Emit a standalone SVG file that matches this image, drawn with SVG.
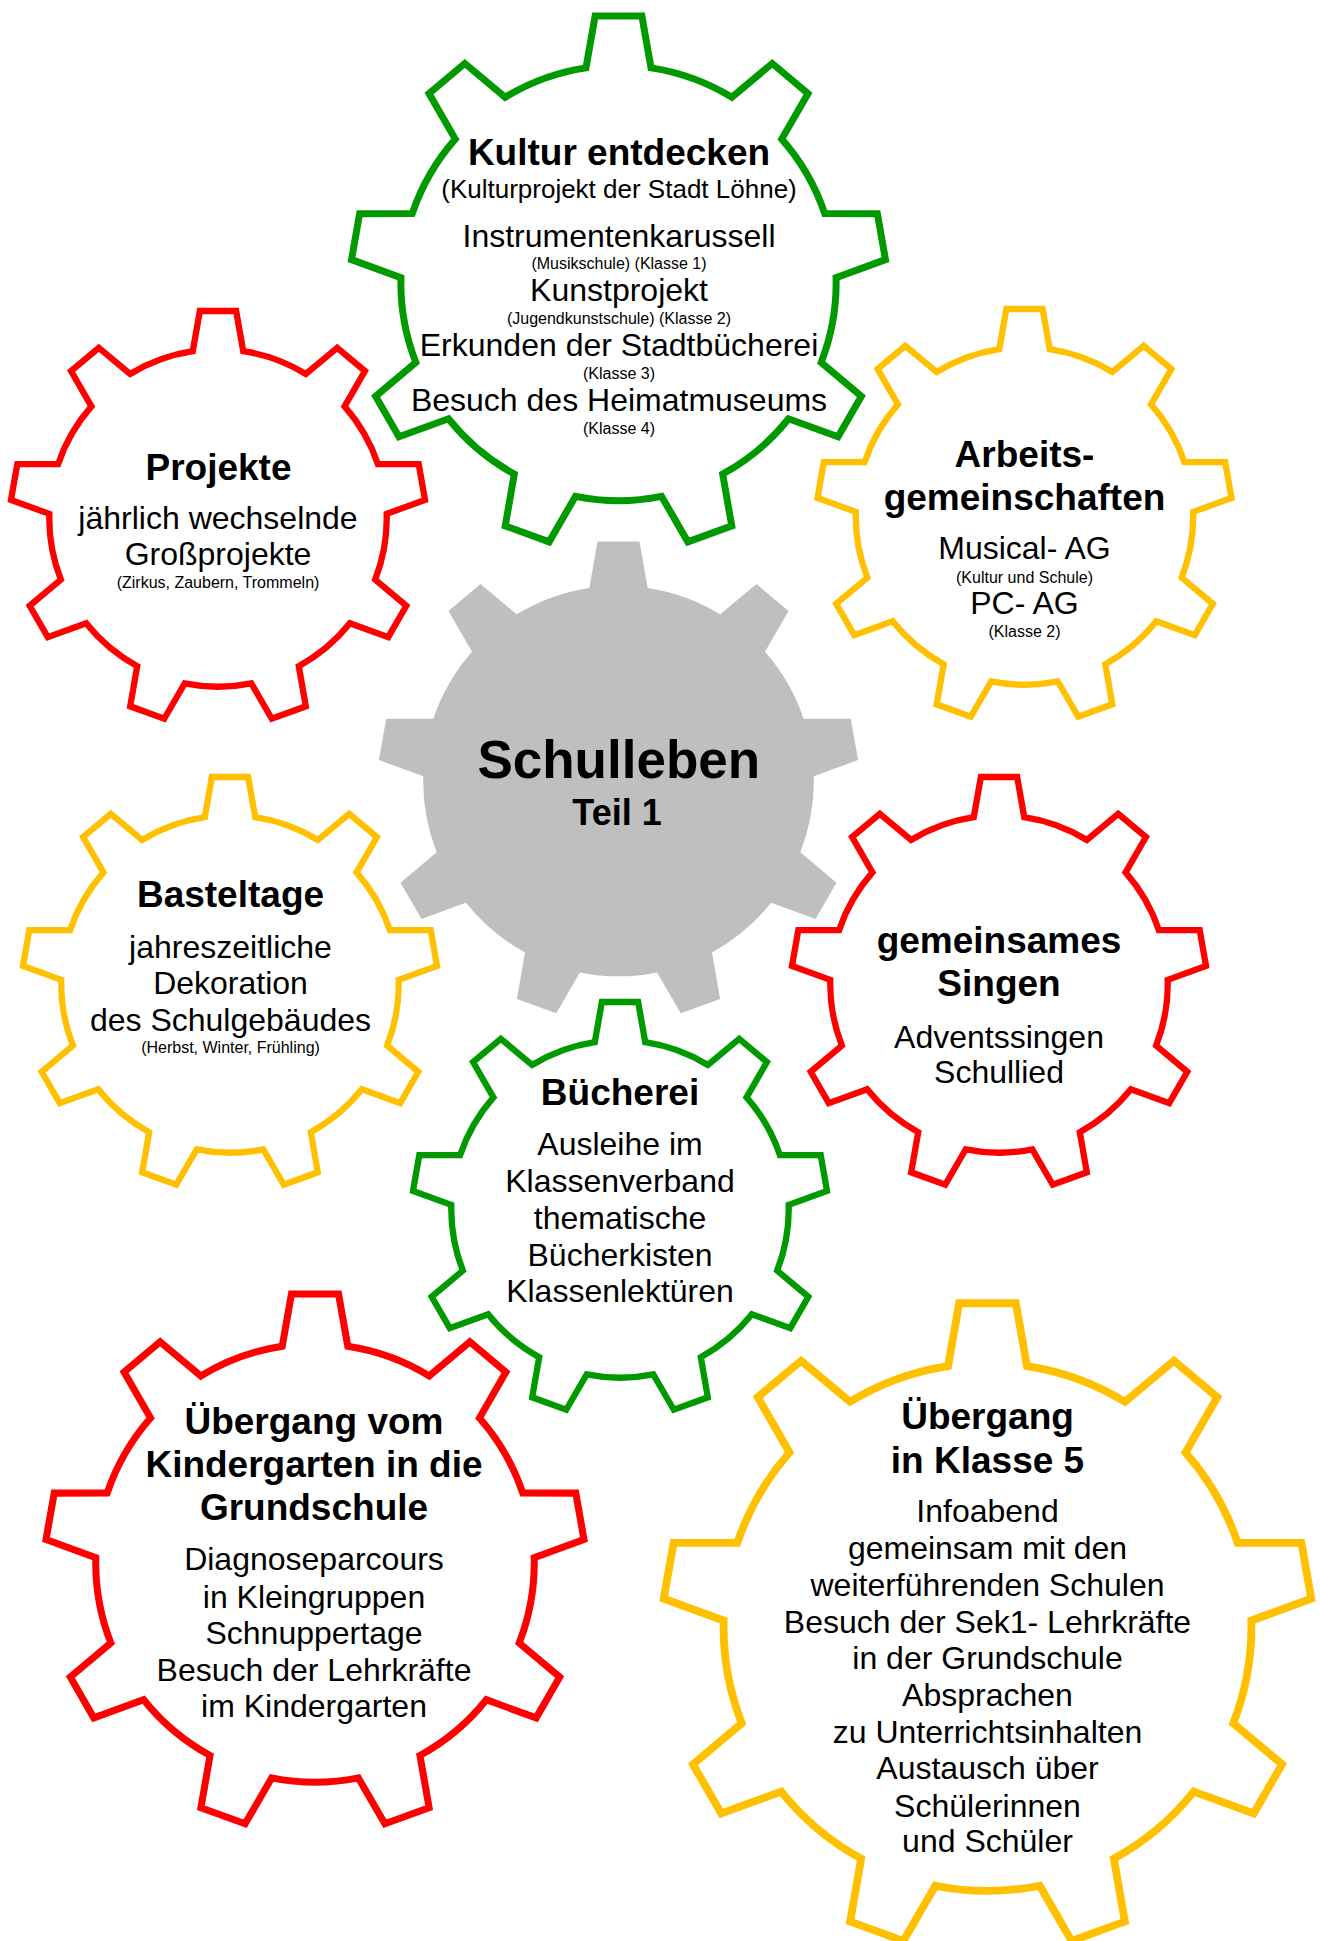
<svg xmlns="http://www.w3.org/2000/svg" width="1320" height="1941" viewBox="0 0 1320 1941">
<defs>
<style>
text { font-family: "Liberation Sans", Arial, sans-serif; text-anchor: middle; fill: #000000; }
.t { font-weight: bold; font-size: 37px; }
.r { font-size: 32px; }
.m { font-size: 26px; }
.s { font-size: 16px; }
.grn { fill: none; stroke: #009900; stroke-linejoin: miter; }
.red { fill: none; stroke: #FF0000; stroke-linejoin: miter; }
.yel { fill: none; stroke: #FFC000; stroke-linejoin: miter; }
.hub { fill: #BFBFBF; stroke: none; }
</style>
<path id="gear" d="M -12.14 -80.29 L -8.72 -99.62 L 8.72 -99.62 L 12.14 -80.29 A 81.2 81.2 0 0 1 42.31 -69.30 L 57.36 -81.92 L 70.71 -70.71 L 60.91 -53.70 A 81.2 81.2 0 0 1 76.96 -25.90 L 96.59 -25.88 L 99.62 -8.72 L 81.18 -1.98 A 81.2 81.2 0 0 1 75.61 29.63 L 90.63 42.26 L 81.92 57.36 L 63.46 50.66 A 81.2 81.2 0 0 1 38.87 71.29 L 42.26 90.63 L 25.88 96.59 L 16.05 79.60 A 81.2 81.2 0 0 1 -16.05 79.60 L -25.88 96.59 L -42.26 90.63 L -38.87 71.29 A 81.2 81.2 0 0 1 -63.46 50.66 L -81.92 57.36 L -90.63 42.26 L -75.61 29.63 A 81.2 81.2 0 0 1 -81.18 -1.98 L -99.62 -8.72 L -96.59 -25.88 L -76.96 -25.90 A 81.2 81.2 0 0 1 -60.91 -53.70 L -70.71 -70.71 L -57.36 -81.92 L -42.31 -69.30 A 81.2 81.2 0 0 1 -12.14 -80.29 Z"/>
</defs>
<rect x="0" y="0" width="1320" height="1941" fill="#FFFFFF"/>

<g id="schulleben">
<use href="#gear" class="hub" transform="translate(618.5 781) scale(2.405)"/>
<text x="618.8" y="778.3" style="font-weight:bold;font-size:53px">Schulleben</text>
<text x="617" y="825" style="font-weight:bold;font-size:36px">Teil 1</text>
</g>

<g id="kultur">
<use href="#gear" class="grn" stroke-width="2.6" transform="translate(618.5 283) scale(2.68)"/>
<text class="t" x="619" y="165">Kultur entdecken</text>
<text class="m" x="619" y="198">(Kulturprojekt der Stadt Löhne)</text>
<text class="r" x="619" y="247">Instrumentenkarussell</text>
<text class="s" x="619" y="268.5">(Musikschule) (Klasse 1)</text>
<text class="r" x="619" y="301">Kunstprojekt</text>
<text class="s" x="619" y="323.5">(Jugendkunstschule) (Klasse 2)</text>
<text class="r" x="619" y="356">Erkunden der Stadtbücherei</text>
<text class="s" x="619" y="378.5">(Klasse 3)</text>
<text class="r" x="619" y="411">Besuch des Heimatmuseums</text>
<text class="s" x="619" y="433.5">(Klasse 4)</text>
</g>

<g id="projekte">
<use href="#gear" class="red" stroke-width="3.03" transform="translate(218 518) scale(2.078)"/>
<text class="t" x="218.5" y="480">Projekte</text>
<text class="r" x="218" y="529.3">jährlich wechselnde</text>
<text class="r" x="218" y="565">Großprojekte</text>
<text class="s" x="218" y="588.3">(Zirkus, Zaubern, Trommeln)</text>
</g>

<g id="arbeitsgemeinschaften">
<use href="#gear" class="yel" stroke-width="3.03" transform="translate(1024.5 516) scale(2.078)"/>
<text class="t" x="1024.5" y="466.7">Arbeits-</text>
<text class="t" x="1024.5" y="510">gemeinschaften</text>
<text class="r" x="1024.5" y="559.3">Musical- AG</text>
<text class="s" x="1024.5" y="582.7">(Kultur und Schule)</text>
<text class="r" x="1024.5" y="614">PC- AG</text>
<text class="s" x="1024.5" y="637.3">(Klasse 2)</text>
</g>

<g id="basteltage">
<use href="#gear" class="yel" stroke-width="3.03" transform="translate(230 984) scale(2.078)"/>
<text class="t" x="230.5" y="906.7">Basteltage</text>
<text class="r" x="230.5" y="958.3">jahreszeitliche</text>
<text class="r" x="230.5" y="994.3">Dekoration</text>
<text class="r" x="230.5" y="1031">des Schulgebäudes</text>
<text class="s" x="230.5" y="1053.3">(Herbst, Winter, Frühling)</text>
</g>

<g id="singen">
<use href="#gear" class="red" stroke-width="3.03" transform="translate(999 984) scale(2.078)"/>
<text class="t" x="999" y="953.3">gemeinsames</text>
<text class="t" x="999" y="995.7">Singen</text>
<text class="r" x="999" y="1047.7">Adventssingen</text>
<text class="r" x="999" y="1083.3">Schullied</text>
</g>

<g id="buecherei">
<use href="#gear" class="grn" stroke-width="3.03" transform="translate(620 1209) scale(2.078)"/>
<text class="t" x="620" y="1105">Bücherei</text>
<text class="r" x="620" y="1155">Ausleihe im</text>
<text class="r" x="620" y="1191.7">Klassenverband</text>
<text class="r" x="620" y="1229">thematische</text>
<text class="r" x="620" y="1266">Bücherkisten</text>
<text class="r" x="620" y="1302.3">Klassenlektüren</text>
</g>

<g id="kindergarten">
<use href="#gear" class="red" stroke-width="2.6" transform="translate(315 1563) scale(2.70)"/>
<text class="t" x="314" y="1434">Übergang vom</text>
<text class="t" x="314" y="1477.3">Kindergarten in die</text>
<text class="t" x="314" y="1520">Grundschule</text>
<text class="r" x="314" y="1570">Diagnoseparcours</text>
<text class="r" x="314" y="1607.7">in Kleingruppen</text>
<text class="r" x="314" y="1644">Schnuppertage</text>
<text class="r" x="314" y="1680.7">Besuch der Lehrkräfte</text>
<text class="r" x="314" y="1717.3">im Kindergarten</text>
</g>

<g id="klasse5">
<use href="#gear" class="yel" stroke-width="2.4" transform="translate(987.5 1627) scale(3.25)"/>
<text class="t" x="987.5" y="1429.3">Übergang</text>
<text class="t" x="987.5" y="1472.7">in Klasse 5</text>
<text class="r" x="987.5" y="1522.3">Infoabend</text>
<text class="r" x="987.5" y="1559">gemeinsam mit den</text>
<text class="r" x="987.5" y="1595.7">weiterführenden Schulen</text>
<text class="r" x="987.5" y="1632.7">Besuch der Sek1- Lehrkräfte</text>
<text class="r" x="987.5" y="1669">in der Grundschule</text>
<text class="r" x="987.5" y="1705.7">Absprachen</text>
<text class="r" x="987.5" y="1742.7">zu Unterrichtsinhalten</text>
<text class="r" x="987.5" y="1779.3">Austausch über</text>
<text class="r" x="987.5" y="1816.7">Schülerinnen</text>
<text class="r" x="987.5" y="1852.3">und Schüler</text>
</g>

<g id="connectors"></g>
</svg>
